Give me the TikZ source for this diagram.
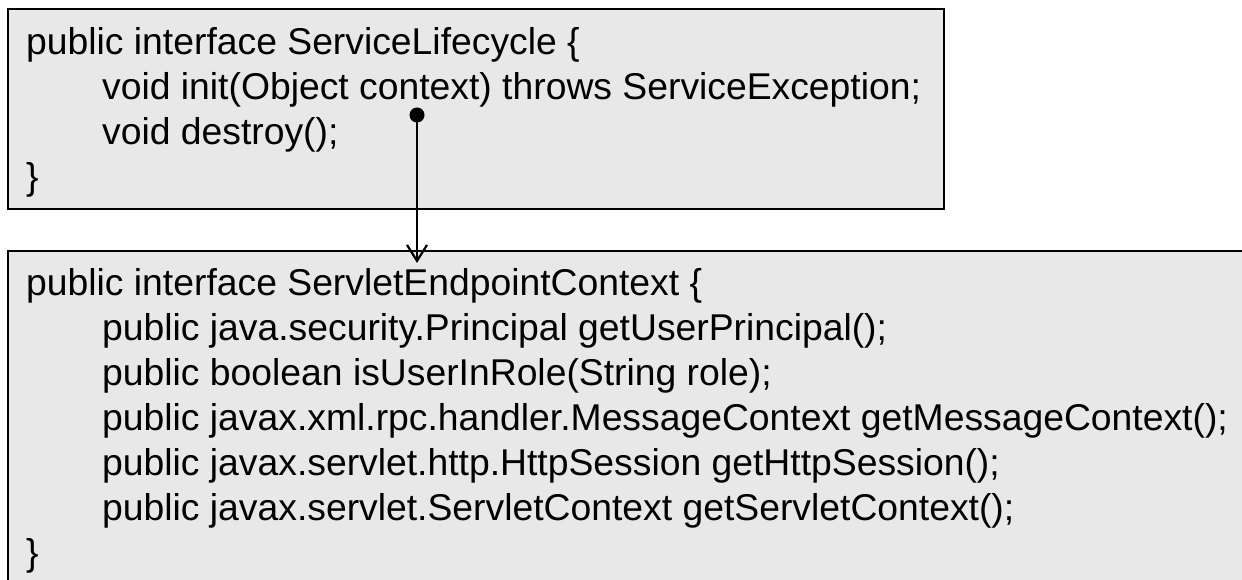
\documentclass[tikz,border=0pt]{standalone}
\usepackage{fontspec}
\setmainfont{Liberation Sans}
\usetikzlibrary{arrows.meta}
\definecolor{boxfill}{HTML}{E8E8E8}
\tikzset{
  codebox/.style={draw=black, fill=boxfill, line width=2.5pt},
  codeline/.style={anchor=base west, inner sep=0pt, font=\fontsize{37.3}{45}\selectfont},
  link/.style={line width=2.4pt, -{Straight Barb[length=16pt,width=20pt,line width=2.2pt]}},
}
\begin{document}
\begin{tikzpicture}[x=1pt,y=-1pt]
\useasboundingbox (0,0) rectangle (1242,580);
\clip (0,0) rectangle (1242,580);
% top box
\draw[codebox] (8,9) rectangle (944,209);
\node[codeline] (t1) at (26,55) {public interface ServiceLifecycle \{};
\node[codeline] (t2) at (102,100) {void init(Object context) throws ServiceException;};
\node[codeline] (t3) at (102,145) {void destroy();};
\node[codeline] (t4) at (26,190) {\}};
% bottom box
\draw[codebox] (8,251) rectangle (1260,600);
\node[codeline] (b1) at (26,295) {public interface ServletEndpointContext \{};
\node[codeline] (b2) at (102,340) {public java.security.Principal getUserPrincipal();};
\node[codeline] (b3) at (102,385) {public boolean isUserInRole(String role);};
\node[codeline] (b4) at (102,430) {public javax.xml.rpc.handler.MessageContext getMessageContext();};
\node[codeline] (b5) at (102,475) {public javax.servlet.http.HttpSession getHttpSession();};
\node[codeline] (b6) at (102,520) {public javax.servlet.ServletContext getServletContext();};
\node[codeline] (b7) at (26,565) {\}};
% connector
\coordinate (dot) at (417,115);
\coordinate (tip) at (417,263);
\draw[link] (dot) -- (tip);
\fill (dot) circle (7.5pt);
\end{tikzpicture}
\end{document}
